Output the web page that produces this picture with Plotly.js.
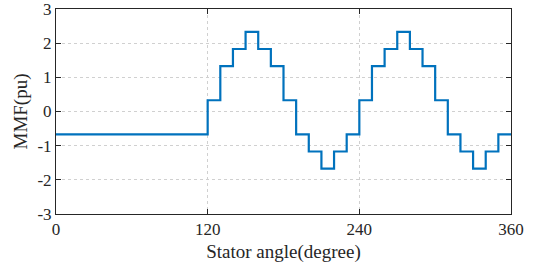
<!DOCTYPE html>
<html>
<head>
<meta charset="utf-8">
<script src="https://cdn.plot.ly/plotly-3.0.1.min.js"></script>
<style>html,body{margin:0;padding:0;background:#fff;}</style>
</head>
<body>
<div id="chart" style="width:541px;height:268px;"></div>
<script>
// Step edges (degrees) and the MMF level held from each edge onward
const angles = [0, 120, 130, 140, 150, 160, 170, 180, 190, 200, 210, 220, 230,
                240, 250, 260, 270, 280, 290, 300, 310, 320, 330, 340, 350, 360];
const mmf = [-0.67, 0.33, 1.33, 1.83, 2.33, 1.83, 1.33, 0.33, -0.67, -1.17, -1.67, -1.17, -0.67,
             0.33, 1.33, 1.83, 2.33, 1.83, 1.33, 0.33, -0.67, -1.17, -1.67, -1.17, -0.67, -0.67];
const xTicks = [0, 120, 240, 360];
const yTicks = [-3, -2, -1, 0, 1, 2, 3];

const fontFam = 'Liberation Serif';

Plotly.newPlot('chart', [{
  x: angles, y: mmf, type: 'scatter', mode: 'lines',
  line: {shape: 'hv', color: '#0072BD', width: 2.2}
}], {
  width: 541, height: 268,
  margin: {l: 56, r: 30, t: 9, b: 54},
  paper_bgcolor: '#fff', plot_bgcolor: '#fff',
  showlegend: false,
  font: {family: fontFam, color: '#262626', size: 17},
  xaxis: {
    range: [0, 360], tickvals: xTicks, ticktext: xTicks.map(String),
    showgrid: true, gridcolor: '#d0d0d0', griddash: 'dot', gridwidth: 1,
    zeroline: false, showline: true, linecolor: '#262626', linewidth: 1, mirror: 'ticks',
    ticks: 'inside', ticklen: 5, tickcolor: '#262626', ticklabeloverflow: 'allow',
    automargin: false,
    tickfont: {family: fontFam, size: 17, color: '#262626'},
    title: {text: 'Stator angle(degree)', font: {family: fontFam, size: 19, color: '#262626'}, standoff: 6}
  },
  yaxis: {
    range: [-3, 3], tickvals: yTicks, ticktext: yTicks.map(String),
    showgrid: true, gridcolor: '#d0d0d0', griddash: 'dot', gridwidth: 1,
    zeroline: false, showline: true, linecolor: '#262626', linewidth: 1, mirror: 'ticks',
    ticks: 'inside', ticklen: 5, tickcolor: '#262626', ticklabeloverflow: 'allow',
    automargin: false,
    tickfont: {family: fontFam, size: 17, color: '#262626'},
    title: {text: 'MMF(pu)', font: {family: fontFam, size: 19, color: '#262626'}, standoff: 4}
  }
}, {displayModeBar: false, staticPlot: true});
</script>
</body>
</html>
